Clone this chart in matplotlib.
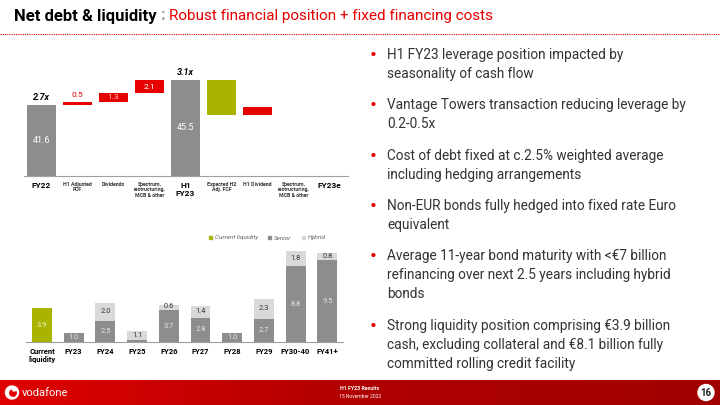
import numpy as np
import matplotlib.pyplot as plt
from matplotlib.patches import Patch, Circle
from matplotlib.colors import LinearSegmentedColormap

plt.rcParams['font.family'] = ['Roboto', 'DejaVu Sans']

# ---- data ----
wf_labels = ['FY22', 'H1 Adjusted\nFCF', 'Dividends', 'Spectrum,\nrestructuring,\nMCB & other',
             'H1\nFY23', 'Expected H2\nAdj. FCF', 'H1 Dividend',
             'Spectrum,\nrestructuring,\nMCB & other', 'FY23e']
fy22_debt = 41.6
h1_steps = [0.5, 1.3, 2.1]
h1_debt = 45.5
h2_steps = [-5.5, 1.2]          # unlabelled in the source
leverage = ['2.7x', '3.1x']

liq_labels = ['Current\nliquidity', 'FY23', 'FY24', 'FY25', 'FY26', 'FY27', 'FY28',
              'FY29', 'FY30-40', 'FY41+']
current_liquidity = 3.9
senior = [1.0, 2.5, 0.2, 3.7, 2.8, 1.0, 2.7, 8.8, 9.5]
hybrid = [0.0, 2.0, 1.1, 0.6, 1.4, 0.0, 2.3, 1.8, 0.8]

bullets = [
    'H1 FY23 leverage position impacted by\nseasonality of cash flow',
    'Vantage Towers transaction reducing leverage by\n0.2-0.5x',
    'Cost of debt fixed at c.2.5% weighted average\nincluding hedging arrangements',
    'Non-EUR bonds fully hedged into fixed rate Euro\nequivalent',
    'Average 11-year bond maturity with <€7 billion\nrefinancing over next 2.5 years including hybrid\nbonds',
    'Strong liquidity position comprising €3.9 billion\ncash, excluding collateral and €8.1 billion fully\ncommitted rolling credit facility',
]

GREY = '#8c8e8e'
RED = '#e60000'
GREEN = '#a8b400'
LIGHT = '#d9d9d9'

W, H = 720, 405
fig = plt.figure(figsize=(7.2, 4.05), dpi=100)
renderer = fig.canvas.get_renderer()


def px(x0, y0, x1, y1):
    return [x0 / W, 1 - y1 / H, (x1 - x0) / W, (y1 - y0) / H]


# ---- title ----
t1 = fig.text(14 / W, 1 - 16 / H, 'Net debt & liquidity', fontsize=12, fontweight='bold',
              va='center', ha='left')
x_end = t1.get_window_extent(renderer).x1
t2 = fig.text((x_end + 4) / W, 1 - 16 / H, ':', fontsize=12, color='#9a9a9a', fontweight='bold',
              va='center')
x_end = t2.get_window_extent(renderer).x1
fig.text((x_end + 4) / W, 1 - 16 / H, 'Robust financial position + fixed financing costs',
         fontsize=11, color=RED, va='center', ha='left')
fig.add_artist(plt.Line2D([0, 1], [1 - 34 / H] * 2, color=RED, lw=0.8, ls=(0, (1, 1))))

# ---- waterfall ----
base = 30.5
ax1 = fig.add_axes(px(24, 60, 348, 176))
ax1.set_xlim(-0.486, 8.514)
ax1.set_ylim(base, base + 116 / 6.41)
bw = 0.78

for i, v, lev in [(0, fy22_debt, leverage[0]), (4, h1_debt, leverage[1])]:
    ax1.bar(i, v - base, bottom=base, width=bw, color=GREY)
    ax1.text(i, (v + base) / 2, f'{v:.1f}', color='white', fontsize=6.5, ha='center', va='center')
    ax1.text(i, v + 1.15, lev, fontsize=6.5, fontweight='bold', style='italic',
             ha='center', va='center')

run = fy22_debt
for k, s in enumerate(h1_steps):
    i = k + 1
    ax1.bar(i, s, bottom=run, width=bw, color=RED)
    if k == 0:
        ax1.text(i, run + s + 1.0, f'{s:.1f}', color=RED, fontsize=6, ha='center', va='center')
    elif k == 1:
        ax1.text(i, run + s / 2, f'{s:.1f}', color='#ffc4c4', fontsize=6, ha='center', va='center')
    else:
        ax1.text(i, run + s / 2, f'{s:.1f}', color='white', fontsize=6, ha='center', va='center')
    run += s

run = h1_debt
for k, s in enumerate(h2_steps):
    ax1.bar(k + 5, s, bottom=run, width=bw, color=GREEN if s < 0 else RED)
    run += s

ax1.set_xticks(range(len(wf_labels)))
ax1.set_xticklabels(wf_labels)
for i, t in enumerate(ax1.get_xticklabels()):
    if i in (0, 4, 8):
        t.set_fontsize(6)
        t.set_fontweight('bold')
    else:
        t.set_fontsize(3.8)
        t.set_fontweight('bold')
        t.set_color('#333333')
ax1.tick_params(axis='x', length=0, pad=4)
ax1.set_yticks([])
for sp in ['top', 'right', 'left']:
    ax1.spines[sp].set_visible(False)
ax1.spines['bottom'].set_color('#a0a0a0')
ax1.spines['bottom'].set_linewidth(0.8)
ax1.patch.set_alpha(0)

# ---- liquidity / maturities ----
ax2 = fig.add_axes(px(26, 230, 343, 342))
ax2.set_xlim(-0.505, 9.495)
ax2.set_ylim(0, 112 / 8.6)
bw2 = 0.63
ax2.bar(0, current_liquidity, width=bw2, color=GREEN)
ax2.text(0, current_liquidity / 2, f'{current_liquidity:.1f}', color='#eef2c8', fontsize=5.3,
         ha='center', va='center')
xs = np.arange(1, len(senior) + 1)
ax2.bar(xs, senior, width=bw2, color=GREY)
ax2.bar(xs, hybrid, bottom=senior, width=bw2, color=LIGHT)
for x, s, h in zip(xs, senior, hybrid):
    if s >= 0.5:
        ax2.text(x, s / 2, f'{s:.1f}', color='#e6e6e6', fontsize=5.3, ha='center', va='center')
    if h > 0:
        ax2.text(x, s + max(h, 0.9) / 2, f'{h:.1f}', color='#333333', fontsize=5.3,
                 ha='center', va='center')
ax2.set_xticks(range(len(liq_labels)))
ax2.set_xticklabels(liq_labels, fontsize=5.5, fontweight='bold')
ax2.tick_params(axis='x', length=0, pad=4)
ax2.set_yticks([])
for sp in ['top', 'right', 'left']:
    ax2.spines[sp].set_visible(False)
ax2.spines['bottom'].set_color('#a0a0a0')
ax2.spines['bottom'].set_linewidth(0.8)
ax2.patch.set_alpha(0)

handles = [Patch(color=GREEN, label='Current liquidity'), Patch(color=GREY, label='Senior'),
           Patch(color=LIGHT, label='Hybrid')]
fig.legend(handles=handles, loc='center left', bbox_to_anchor=(203 / W, 1 - 238 / H), ncol=3,
           frameon=False, prop={'size': 4.6, 'style': 'italic'}, labelcolor='#666666',
           handlelength=0.45, handleheight=0.45, handletextpad=0.5, columnspacing=1.6)

# ---- bullets ----
tops = [48, 98, 149, 199, 249, 319]
for y, txt in zip(tops, bullets):
    fig.text(373 / W, 1 - (y - 2) / H, '•', color=RED, fontsize=15, va='top', ha='center')
    fig.text(387 / W, 1 - y / H, txt, fontsize=9.8, color='#333333', va='top', ha='left',
             linespacing=1.45)

# ---- footer ----
axf = fig.add_axes(px(0, 380, 720, 405))
grad = np.linspace(0, 1, 256)[None, :]
cm = LinearSegmentedColormap.from_list('vf', ['#e00000', '#b00000', '#a00000'])
axf.imshow(grad, aspect='auto', cmap=cm, extent=[0, W, 0, 25])
axf.set_xlim(0, W)
axf.set_ylim(0, 25)
axf.axis('off')
axf.add_patch(Circle((12, 12.5), 6.5, color='white'))
axf.add_patch(Circle((13, 12), 3.2, color=RED))
axf.add_patch(Circle((14.2, 15.6), 1.6, color='white'))
axf.text(22, 12.5, 'vodafone', color='white', fontsize=8, va='center', ha='left')
axf.text(360, 16, 'H1 FY23 Results', color='white', fontsize=3.8, fontweight='bold',
         ha='center', va='center')
axf.text(360, 9, '15 November 2022', color='white', fontsize=3.6, ha='center', va='center')
axf.add_patch(Circle((706, 12.5), 8, color='white'))
axf.text(706, 12.3, '16', color='#222222', fontsize=7, fontweight='bold', ha='center', va='center')

fig.savefig('out.png', dpi=100, facecolor='white')
